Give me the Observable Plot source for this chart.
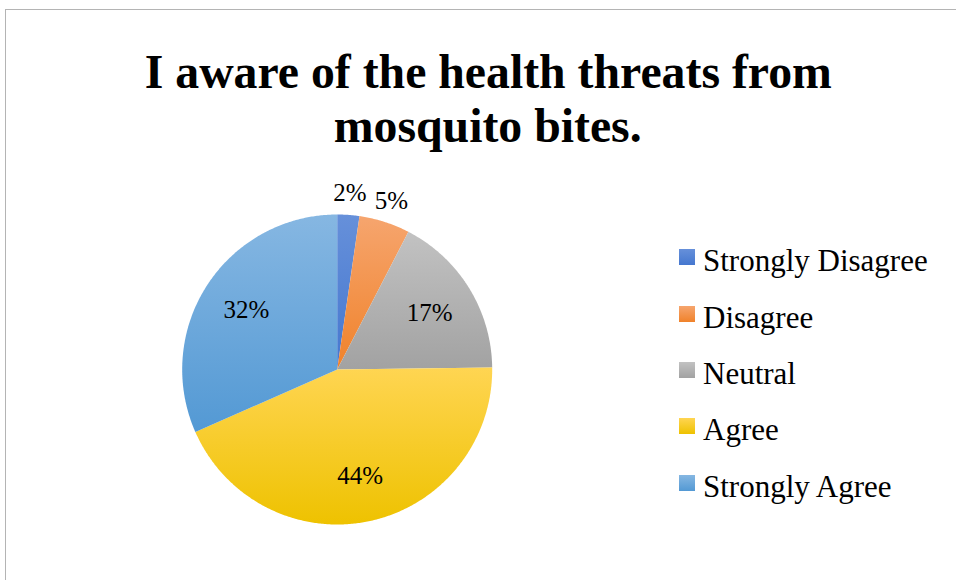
<!DOCTYPE html>
<html>
<head>
<meta charset="utf-8">
<script src="https://cdn.jsdelivr.net/npm/d3@7"></script>
<script src="https://cdn.jsdelivr.net/npm/@observablehq/plot@0.6"></script>
<style>
  html, body { margin: 0; padding: 0; background: #fff; }
  #wrap { position: relative; width: 956px; height: 580px; overflow: hidden; font-family: "Liberation Serif", "Times New Roman", serif; }
  #frame { position: absolute; left: 5px; top: 9px; width: 1000px; height: 700px; border-left: 1px solid #b4b4b4; border-top: 1px solid #b4b4b4; }
  #title { position: absolute; left: 0; width: 976px; top: 45px; text-align: center; font-weight: bold; font-size: 48px; color: #000; }
  #title .tl { height: 53.5px; line-height: 53.5px; }
  #title span { display: inline-block; line-height: 53.5px; transform: scaleX(0.995); transform-origin: center; white-space: nowrap; }
  #chart { position: absolute; left: 0; top: 0; }
  #legend { position: absolute; left: 679px; top: 229px; }
  .row { display: flex; align-items: center; height: 56.4px; }
  .sw { width: 16px; height: 16px; }
  .lab { margin-left: 8px; font-size: 31px; line-height: 31px; position: relative; top: 3.5px; color: #000; white-space: nowrap; }
</style>
</head>
<body>
<div id="wrap">
  <div id="frame"></div>
  <div id="chart"></div>
  <div id="title"></div>
  <div id="legend"></div>
</div>
<script>
// ---- data ----
const categories = ["Strongly Disagree", "Disagree", "Neutral", "Agree", "Strongly Agree"];
const shares = [2.3, 5.3, 17.2, 43.6, 31.6];
const labels = ["2%", "5%", "17%", "44%", "32%"];
const titleLines = ["I aware of the health threats from", "mosquito bites."];

// ---- style ----
const topColors = ["#6690DA", "#F6A56E", "#C2C2C2", "#FFD552", "#86B7E2"];
const bottomColors = ["#4577CF", "#F0822A", "#A2A2A2", "#EEC200", "#5399D4"];

const cx = 336.7, cy = 369, R = 155;
const total = d3.sum(shares);
let acc = 0;
const slices = shares.map((v, i) => {
  const a0 = acc / total * 2 * Math.PI;
  acc += v;
  const a1 = acc / total * 2 * Math.PI;
  const pts = [{x: 0, y: 0}];
  const n = Math.max(2, Math.ceil((a1 - a0) / (Math.PI / 360)));
  for (let k = 0; k <= n; k++) {
    const a = a0 + (a1 - a0) * k / n;
    pts.push({x: Math.sin(a), y: Math.cos(a)});
  }
  pts.push({x: 0, y: 0});
  return {i, a0, a1, pts, share: v / total};
});

const labelData = slices.map(s => {
  const am = (s.a0 + s.a1) / 2;
  const r = s.share < 0.06 ? (R + 22) / R : 0.7;
  return {x: r * Math.sin(am), y: r * Math.cos(am), text: labels[s.i]};
});

const svg = Plot.plot({
  width: 956,
  height: 580,
  margin: 0,
  style: {background: "transparent", overflow: "visible"},
  x: {domain: [-1, 1], range: [cx - R, cx + R], axis: null},
  y: {domain: [-1, 1], range: [cy + R, cy - R], axis: null},
  marks: [
    ...slices.map(s => Plot.line(s.pts, {x: "x", y: "y", fill: `url(#grad${s.i})`, stroke: "none", curve: "linear"})),
    Plot.text(labelData, {x: "x", y: "y", text: "text", fontSize: 25, fontFamily: "Liberation Serif, Times New Roman, serif", fill: "#000"})
  ]
});

const ns = "http://www.w3.org/2000/svg";
const defs = document.createElementNS(ns, "defs");
categories.forEach((c, i) => {
  const g = document.createElementNS(ns, "linearGradient");
  g.setAttribute("id", `grad${i}`);
  g.setAttribute("x1", "0"); g.setAttribute("y1", "0");
  g.setAttribute("x2", "0"); g.setAttribute("y2", "1");
  [[0, topColors[i]], [1, bottomColors[i]]].forEach(([o, col]) => {
    const st = document.createElementNS(ns, "stop");
    st.setAttribute("offset", o);
    st.setAttribute("stop-color", col);
    g.appendChild(st);
  });
  defs.appendChild(g);
});
svg.insertBefore(defs, svg.firstChild);
document.getElementById("chart").appendChild(svg);

// title
const t = document.getElementById("title");
t.innerHTML = titleLines.map(l => `<div class="tl"><span>${l}</span></div>`).join("");

// legend
const leg = document.getElementById("legend");
categories.forEach((c, i) => {
  const row = document.createElement("div");
  row.className = "row";
  row.innerHTML = `<div class="sw" style="background: linear-gradient(${topColors[i]}, ${bottomColors[i]})"></div><div class="lab">${c}</div>`;
  leg.appendChild(row);
});
</script>
</body>
</html>
